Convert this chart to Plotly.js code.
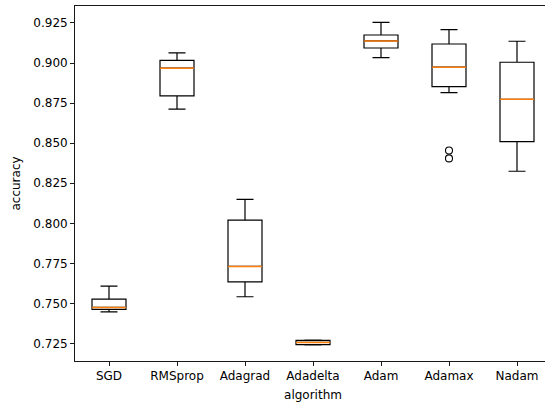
<!DOCTYPE html>
<html>
<head>
<meta charset="utf-8">
<script src="https://cdn.plot.ly/plotly-3.0.1.min.js"></script>
<style>
html,body{margin:0;padding:0;overflow:hidden;background:#fff;}
#chart{width:552px;height:402px;}
</style>
</head>
<body>
<div id="chart"></div>
<script>
// Data
const algorithms = ["SGD", "RMSprop", "Adagrad", "Adadelta", "Adam", "Adamax", "Nadam"];
const upperFence = [0.7608, 0.9063, 0.8149, 0.7271, 0.9254, 0.9209, 0.9136];
const q3Values   = [0.7527, 0.9017, 0.8020, 0.7270, 0.9175, 0.9119, 0.9005];
const medians    = [0.7475, 0.8968, 0.7731, 0.7257, 0.9138, 0.8974, 0.8774];
const q1Values   = [0.7463, 0.8795, 0.7635, 0.7243, 0.9094, 0.8853, 0.8510];
const lowerFence = [0.7448, 0.8712, 0.7542, 0.7242, 0.9034, 0.8816, 0.8325];
const outlierAlgorithm = ["Adamax", "Adamax"];
const outlierValues = [0.8454, 0.8405];

const boxWidth = 0.5;
const positions = algorithms.map((_, i) => i + 1);

const traces = [];
algorithms.forEach((name, i) => {
  traces.push({
    type: 'box',
    x: [positions[i]],
    q1: [q1Values[i]],
    median: [medians[i]],
    q3: [q3Values[i]],
    lowerfence: [lowerFence[i]],
    upperfence: [upperFence[i]],
    width: boxWidth,
    whiskerwidth: 0.5,
    boxpoints: false,
    fillcolor: 'rgba(0,0,0,0)',
    line: {color: '#000000', width: 1.2},
    hoverinfo: 'skip',
    showlegend: false
  });
});

// orange median lines
const mx = [], my = [];
algorithms.forEach((name, i) => {
  mx.push(positions[i] - boxWidth / 2, positions[i] + boxWidth / 2, null);
  my.push(medians[i], medians[i], null);
});
traces.push({
  type: 'scatter', mode: 'lines', x: mx, y: my,
  line: {color: '#ff7f0e', width: 1.5},
  hoverinfo: 'skip', showlegend: false
});

// outliers
traces.push({
  type: 'scatter', mode: 'markers',
  x: outlierAlgorithm.map(a => algorithms.indexOf(a) + 1),
  y: outlierValues,
  marker: {symbol: 'circle-open', size: 7, color: '#000000', line: {width: 1.1, color: '#000000'}},
  hoverinfo: 'skip', showlegend: false
});

const font = {family: 'DejaVu Sans', size: 12, color: '#000000'};

const layout = {
  width: 552, height: 402,
  margin: {l: 75, r: 1, t: 6, b: 41},
  paper_bgcolor: '#ffffff', plot_bgcolor: '#ffffff',
  font: font,
  showlegend: false,
  xaxis: {
    range: [0.5, 7.5],
    tickmode: 'array', tickvals: positions, ticktext: algorithms,
    ticks: 'outside', ticklen: 4, tickwidth: 0.9, tickcolor: '#000',
    showgrid: false, zeroline: false,
    showline: true, linecolor: '#000', linewidth: 0.9, mirror: true,
    title: {text: 'algorithm', font: font, standoff: 8},
    automargin: false
  },
  yaxis: {
    range: [0.7141, 0.9356],
    tick0: 0.725, dtick: 0.025, tickformat: '.3f',
    ticks: 'outside', ticklen: 4, tickwidth: 0.9, tickcolor: '#000',
    showgrid: false, zeroline: false,
    showline: true, linecolor: '#000', linewidth: 0.9, mirror: true,
    title: {text: 'accuracy', font: font, standoff: 10},
    automargin: false
  }
};

Plotly.newPlot('chart', traces, layout, {displayModeBar: false, staticPlot: true});
</script>
</body>
</html>
